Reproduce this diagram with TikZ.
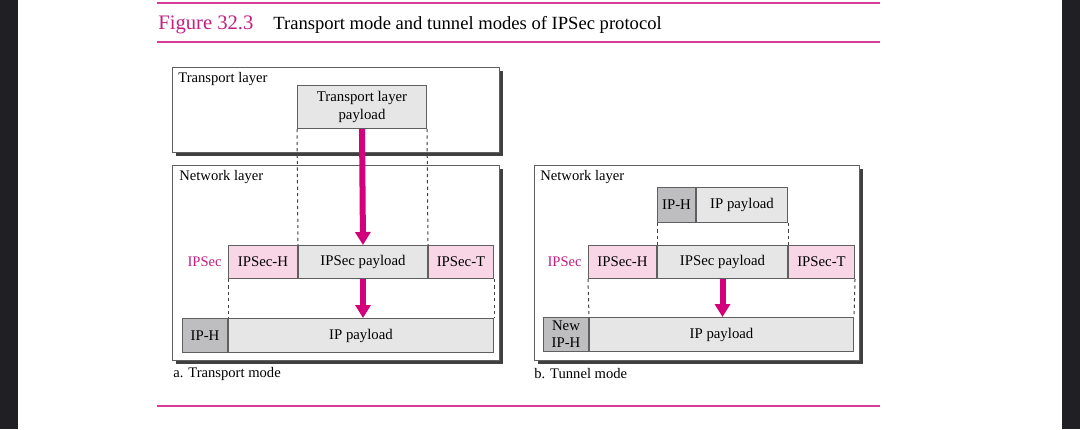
\documentclass[tikz,border=0pt]{standalone}
\usepackage{fontspec}
\setmainfont{Liberation Serif}
\usetikzlibrary{positioning,arrows.meta,shadows}
\definecolor{rule}{RGB}{214,60,150}
\definecolor{fig}{RGB}{196,30,128}
\definecolor{secpink}{RGB}{248,214,230}
\definecolor{paygray}{RGB}{230,230,231}
\definecolor{hdrgray}{RGB}{190,190,192}
\definecolor{flow}{RGB}{210,0,122}
\definecolor{edge}{RGB}{95,95,95}
\definecolor{bar}{RGB}{32,32,36}
\tikzstyle{every cell} = [draw=edge, line width=0.5pt, inner sep=0pt, font=\fontsize{7.4}{8.6}\selectfont, align=center]
\tikzstyle{cell} = [rectangle, fill=paygray, every cell]
\tikzstyle{seccell} = [cell, fill=secpink]
\tikzstyle{hdrcell} = [cell, fill=hdrgray]
\tikzstyle{layer} = [draw=edge, fill=white, line width=0.5pt, anchor=north west, inner sep=0pt,
  drop shadow={shadow xshift=1.5pt, shadow yshift=-1.5pt, fill=black!75, opacity=1}]
\tikzstyle{txt} = [inner sep=0pt, anchor=west, font=\fontsize{7.3}{8.6}\selectfont]
\tikzstyle{guide} = [draw=black!75, line width=0.5pt, dash pattern=on 1.6pt off 1.6pt]
\tikzstyle{flow} = [draw=flow, line width=3pt, -{Triangle[width=7.5pt,length=6.5pt]}]

\begin{document}
\begin{tikzpicture}[x=0.5pt, y=-0.5pt]
                    \useasboundingbox (0,0) rectangle (1080,429);
                    \fill[bar] (0,0) rectangle (18,429);
                    \fill[bar] (1062,0) rectangle (1080,429);

                    % heading
                    \draw[rule, line width=1pt] (157,3) -- (880,3);
                    \draw[rule, line width=1pt] (157,42) -- (880,42);
                    \draw[rule, line width=1pt] (157,406) -- (880,406);
                    \node[txt, fig, font=\fontsize{10.3}{12}\selectfont] (fignum) at (158,25) {Figure 32.3};
                    \node[txt, font=\fontsize{9.3}{11}\selectfont] (figtitle) at (273,25) {Transport mode and tunnel modes of IPSec protocol};

                    % a. transport mode
                    \node[layer, minimum width=163.5pt, minimum height=42.5pt] (tlayer) at (172,67) {};
                    \node[txt] at (178,79) {Transport layer};
                    \node[cell, anchor=north west, minimum width=64.5pt, minimum height=21.5pt] (tpay) at (297,85) {Transport layer\\payload};

                    \node[layer, minimum width=163.5pt, minimum height=97.5pt] (nlayer) at (172,165) {};
                    \node[txt] at (179,177) {Network layer};

                    \node[seccell, anchor=north west, minimum width=34.5pt, minimum height=16.5pt] (ipsech) at (228,245) {IPSec-H};
                    \node[cell, right=0pt of ipsech, minimum width=64.5pt, minimum height=16.5pt] (ipsecpay) {IPSec payload};
                    \node[seccell, right=0pt of ipsecpay, minimum width=32.5pt, minimum height=16.5pt] (ipsect) {IPSec-T};
                    \node[txt, fig, anchor=east, left=3pt of ipsech] {IPSec};

                    \node[hdrcell, anchor=north west, minimum width=22.5pt, minimum height=17pt] (iph) at (182,318) {IP-H};
                    \node[cell, right=0pt of iph, minimum width=132.5pt, minimum height=17pt] (ippay) {IP payload};

                    \draw[guide] (tpay.south west) -- (ipsecpay.north west);
                    \draw[guide] (tpay.south east) -- (ipsecpay.north east);
                    \draw[guide] (ipsech.south west) -- (iph.north east);
                    \draw[guide] (ipsect.south east) -- (ippay.north east);
                    \draw[flow] (tpay.south) -- (ipsecpay.north);
                    \draw[flow] (ipsecpay.south) -- (ipsecpay.south |- ippay.north);

                    \node[txt] at (173,374) {a. Transport mode};

                    % b. tunnel mode
                    \node[layer, minimum width=162.5pt, minimum height=97.5pt] (nlayerb) at (534,165) {};
                    \node[txt] at (540,177) {Network layer};

                    \node[hdrcell, anchor=north west, minimum width=19pt, minimum height=17.5pt] (iphin) at (657,187) {IP-H};
                    \node[cell, right=0pt of iphin, minimum width=45.5pt, minimum height=17.5pt] (ippayin) {IP payload};

                    \node[seccell, anchor=north west, minimum width=34pt, minimum height=16.5pt] (ipsechb) at (588,245) {IPSec-H};
                    \node[cell, right=0pt of ipsechb, minimum width=65pt, minimum height=16.5pt] (ipsecpayb) {IPSec payload};
                    \node[seccell, right=0pt of ipsecpayb, minimum width=33pt, minimum height=16.5pt] (ipsectb) {IPSec-T};
                    \node[txt, fig, anchor=east, left=3pt of ipsechb] {IPSec};

                    \node[hdrcell, anchor=north west, minimum width=22.5pt, minimum height=17pt] (newiph) at (543,317) {New\\IP-H};
                    \node[cell, right=0pt of newiph, minimum width=132pt, minimum height=17pt] (ippayb) {IP payload};

                    \draw[guide] (iphin.south west) -- (ipsecpayb.north west);
                    \draw[guide] (ippayin.south east) -- (ipsecpayb.north east);
                    \draw[guide] (ipsechb.south west) -- (newiph.north east);
                    \draw[guide] (ipsectb.south east) -- (ippayb.north east);
                    \draw[flow] (ipsecpayb.south) -- (ipsecpayb.south |- ippayb.north);

                    \node[txt] at (534,374) {b. Tunnel mode};
                \end{tikzpicture}
\end{document}
